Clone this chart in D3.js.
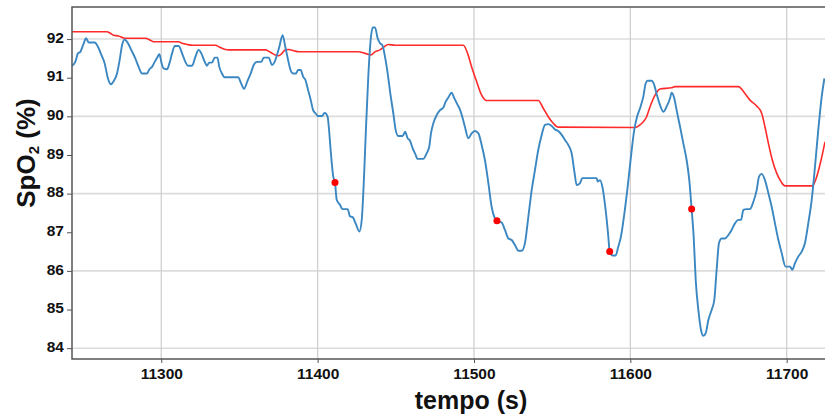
<!DOCTYPE html>
<html>
<head>
<meta charset="utf-8">
<script src="https://cdn.jsdelivr.net/npm/d3@7"></script>
<style>
  body { margin: 0; background: white; }
  text { font-family: "Liberation Sans", Arial, sans-serif; font-weight: bold; }
</style>
</head>
<body>
<div id="container"></div>
<script>
// SpO2 signal (blue)
let spoTime = [11242.9,11245.0,11246.7,11248.2,11250.4,11251.9,11253.6,11257.4,11259.5,11261.7,11263.8,11265.9,11267.8,11269.5,11271.7,11273.4,11274.9,11276.6,11278.7,11280.8,11283.4,11285.5,11287.7,11290.9,11292.4,11294.1,11295.8,11297.5,11298.8,11300.0,11301.5,11303.7,11305.2,11306.9,11308.6,11311.1,11313.3,11315.4,11317.1,11319.7,11321.8,11323.9,11325.6,11327.8,11329.2,11330.7,11332.4,11334.2,11335.9,11337.1,11338.8,11340.5,11349.1,11351.2,11352.9,11355.0,11357.2,11359.1,11361.2,11364.0,11365.5,11368.7,11370.8,11372.5,11374.0,11375.5,11377.6,11379.3,11381.1,11382.5,11384.3,11386.2,11387.5,11389.2,11390.7,11392.2,11393.9,11395.6,11397.1,11398.6,11400.1,11402.8,11404.5,
  11406.4,11407.3,11408.5,11410.0,11411.1,11412.2,11414.3,11415.8,11419.2,11420.7,11422.4,11424.3,11426.7,11428.2,11429.4,11430.7,11432.4,11433.9,11435.2,11436.7,11438.4,11439.9,11441.4,11443.1,11444.8,11446.5,11448.4,11449.9,11451.6,11454.4,11455.9,11457.6,11459.1,11460.8,11462.3,11464.0,11467.6,11469.7,11471.4,11472.5,11474.0,11476.1,11478.3,11480.4,11481.9,11483.6,11485.7,11487.4,11489.6,11491.0,11492.5,11494.2,11496.4,11498.5,11500.6,11502.8,11504.9,11507.0,11509.2,11511.3,11513.4,11514.7,11517.7,11519.8,11522.0,11524.1,11526.2,11528.4,11530.5,11532.6,11534.8,11536.9,11539.0,11541.1,11543.3,11545.4,11547.5,11549.7,11551.8,11553.9,11556.1,11558.2,11560.3,11562.5,11564.2,11565.7,
  11567.8,11569.3,11578.5,11579.1,11580.6,11582.1,11583.4,11584.9,11585.9,11586.8,11588.5,11590.6,11592.3,11594.0,11596.2,11598.3,11600.4,11602.5,11604.3,11606.2,11608.3,11609.8,11611.1,11613.6,11615.3,11617.0,11619.0,11621.1,11623.2,11625.4,11626.4,11628.1,11629.6,11631.8,11633.9,11636.0,11637.7,11639.2,11640.5,11641.8,11643.5,11645.2,11646.7,11648.2,11649.9,11652.0,11653.7,11655.2,11656.7,11658.4,11660.5,11662.7,11664.8,11666.9,11669.1,11670.8,11672.3,11674.4,11676.5,11678.7,11680.8,11682.3,11684.0,11686.1,11688.3,11690.4,11692.5,11694.7,11696.8,11699.3,11702.1,11703.6,11705.3,11707.4,11709.6,11711.7,11713.8,11716.0,11718.1,11720.2,11722.4,11724.1];
let spoValue = [91.31,91.41,91.63,91.67,91.89,92.02,91.91,91.91,91.80,91.59,91.37,90.98,90.83,90.91,91.11,91.46,91.84,91.99,91.89,91.72,91.50,91.28,91.11,91.11,91.22,91.28,91.41,91.53,91.61,91.41,91.24,91.22,91.37,91.63,91.82,91.82,91.63,91.41,91.31,91.31,91.54,91.72,91.63,91.41,91.31,91.39,91.39,91.52,91.52,91.28,91.11,91.01,91.01,90.84,90.71,90.90,91.11,91.33,91.41,91.41,91.52,91.52,91.33,91.41,91.59,91.80,92.10,91.80,91.46,91.22,91.11,91.11,91.20,91.20,91.03,90.94,90.68,90.42,90.16,90.08,90.01,90.01,90.09,
  89.99,89.65,89.04,88.44,88.29,87.84,87.71,87.60,87.60,87.41,87.39,87.23,87.02,87.32,88.18,89.47,91.03,91.97,92.30,92.30,92.02,91.89,91.84,91.54,91.11,90.59,90.08,89.65,89.49,89.49,89.60,89.43,89.37,89.17,89.04,88.90,88.90,89.04,89.22,89.56,89.82,90.03,90.16,90.23,90.38,90.49,90.61,90.47,90.29,90.18,89.99,89.73,89.43,89.56,89.62,89.56,89.26,88.87,88.27,87.66,87.36,87.30,87.25,87.06,86.84,86.80,86.67,86.52,86.52,86.72,87.41,88.09,88.61,89.13,89.52,89.78,89.80,89.75,89.66,89.62,89.52,89.39,89.26,89.04,88.57,88.22,
  88.27,88.40,88.40,88.31,88.35,88.18,87.84,87.32,86.89,86.50,86.40,86.40,86.63,86.89,87.49,88.18,88.96,89.65,89.99,90.21,90.51,90.85,90.92,90.92,90.81,90.55,90.29,90.12,90.25,90.47,90.61,90.47,90.16,89.73,89.30,88.87,88.35,87.60,86.89,85.77,84.99,84.47,84.32,84.39,84.73,84.99,85.25,86.03,86.72,86.84,86.84,86.93,87.06,87.23,87.32,87.32,87.58,87.60,87.60,87.79,88.09,88.44,88.51,88.35,88.01,87.66,87.23,86.80,86.46,86.11,86.11,86.03,86.20,86.37,86.50,86.72,87.23,87.84,88.70,89.65,90.51,90.98];

// baseline (red)
let baseTime = [11242.9,11265.3,11267.4,11269.5,11272.7,11276.6,11289.8,11293.0,11295.1,11311.1,11313.3,11316.5,11320.1,11334.6,11337.8,11341.0,11343.1,11366.6,11369.8,11372.9,11375.1,11377.2,11379.3,11381.5,11384.7,11387.9,11426.0,11430.3,11434.1,11436.7,11439.9,11442.6,11445.2,11449.5,11493.2,11495.9,11498.5,11501.7,11504.9,11508.1,11541.1,11544.3,11547.5,11550.7,11553.9,11603.0,11606.2,11608.3,11610.4,11612.6,11615.8,11619.0,11626.4,11628.6,11669.1,11673.3,11676.5,11680.8,11684.0,11686.1,11688.3,11690.8,11693.6,11696.4,11698.9,11716.4,11719.2,11722.0,11724.5];
let baseValue = [92.19,92.19,92.15,92.10,92.08,92.02,92.02,91.97,91.93,91.93,91.89,91.86,91.84,91.84,91.78,91.73,91.72,91.72,91.66,91.59,91.57,91.63,91.72,91.73,91.70,91.67,91.67,91.63,91.59,91.67,91.72,91.80,91.86,91.84,91.84,91.63,91.28,90.90,90.55,90.41,90.41,90.21,89.99,89.82,89.72,89.71,89.78,89.86,89.99,90.25,90.55,90.71,90.74,90.77,90.77,90.59,90.42,90.27,90.08,89.73,89.30,88.87,88.53,88.31,88.20,88.20,88.44,88.87,89.34];

// marked events
let eventTime = [11411.1,11514.7,11586.8,11639.2];
let eventValue = [88.29,87.30,86.50,87.60];

let xTicks = [11300,11400,11500,11600,11700];
let yTicks = [84,85,86,87,88,89,90,91,92];
let yGrid = [84,86,88,90,92];

let width = 825, height = 417;
let mLeft = 72, mRight = 825, mTop = 7, mBottom = 359;

let viz = d3.select("#container").append("svg")
    .attr("width", width)
    .attr("height", height)
    .style("display", "block")

let x = d3.scaleLinear().domain([11242.9, 11724.5]).range([mLeft, mRight])
let y = d3.scaleLinear().domain([83.72, 92.83]).range([mBottom, mTop])

// grid
viz.append("g").selectAll("line").data(yGrid).enter().append("line")
    .attr("x1", mLeft).attr("x2", mRight)
    .attr("y1", d => y(d)).attr("y2", d => y(d))
    .attr("stroke", "#dcdcdc").attr("stroke-width", 1.6)
viz.append("g").selectAll("line").data(xTicks).enter().append("line")
    .attr("x1", d => x(d)).attr("x2", d => x(d))
    .attr("y1", mTop).attr("y2", mBottom)
    .attr("stroke", "#d0d0d0").attr("stroke-width", 1.3)

let baseData = baseTime.map((t, i) => [t, baseValue[i]])
let spoData = spoTime.map((t, i) => [t, spoValue[i]])

let line = d3.line()
    .x(d => x(d[0]))
    .y(d => y(d[1]))
    .curve(d3.curveMonotoneX)

let clip = viz.append("clipPath").attr("id", "clip")
clip.append("rect").attr("x", mLeft).attr("y", mTop).attr("width", mRight - mLeft).attr("height", mBottom - mTop)

let plot = viz.append("g").attr("clip-path", "url(#clip)")
plot.append("path")
    .attr("d", line(baseData))
    .attr("fill", "none")
    .attr("stroke", "#ff2a2a")
    .attr("stroke-width", 1.6)
plot.append("path")
    .attr("d", line(spoData))
    .attr("fill", "none")
    .attr("stroke", "#3a87c2")
    .attr("stroke-width", 1.9)
plot.selectAll("circle").data(eventTime).enter().append("circle")
    .attr("cx", d => x(d))
    .attr("cy", (d, i) => y(eventValue[i]))
    .attr("r", 3.5)
    .attr("fill", "#ff0000")

// axes
let xAxis = viz.append("g")
    .attr("transform", "translate(0," + mBottom + ")")
    .call(d3.axisBottom(x).tickValues(xTicks).tickFormat(d3.format("d")).tickSize(4).tickPadding(5))
let yAxis = viz.append("g")
    .attr("transform", "translate(" + mLeft + ",0)")
    .call(d3.axisLeft(y).tickValues(yTicks).tickFormat(d3.format("d")).tickSize(5).tickPadding(3))

xAxis.select(".domain").remove()
yAxis.select(".domain").remove()
xAxis.selectAll("text").attr("font-size", 15.5).attr("fill", "#111")
yAxis.selectAll("text").attr("font-size", 15.5).attr("fill", "#111").attr("dy", "0.2em")
xAxis.selectAll("line").attr("stroke", "#555")
yAxis.selectAll("line").attr("stroke", "#555")

// panel border
viz.append("rect")
    .attr("x", mLeft).attr("y", mTop)
    .attr("width", mRight - mLeft + 2).attr("height", mBottom - mTop)
    .attr("fill", "none")
    .attr("stroke", "#555")
    .attr("stroke-width", 1.5)

// titles
viz.append("text")
    .attr("x", 471).attr("y", 409)
    .attr("text-anchor", "middle")
    .attr("font-size", 25)
    .attr("fill", "#111")
    .text("tempo (s)")

let yTitle = viz.append("text")
    .attr("transform", "translate(35,153) rotate(-90)")
    .attr("text-anchor", "middle")
    .attr("font-size", 26)
    .attr("fill", "#111")
yTitle.append("tspan").text("SpO")
yTitle.append("tspan").attr("font-size", 15).attr("dy", 4).text("2")
yTitle.append("tspan").attr("dy", -4).text(" (%)")
</script>
</body>
</html>
